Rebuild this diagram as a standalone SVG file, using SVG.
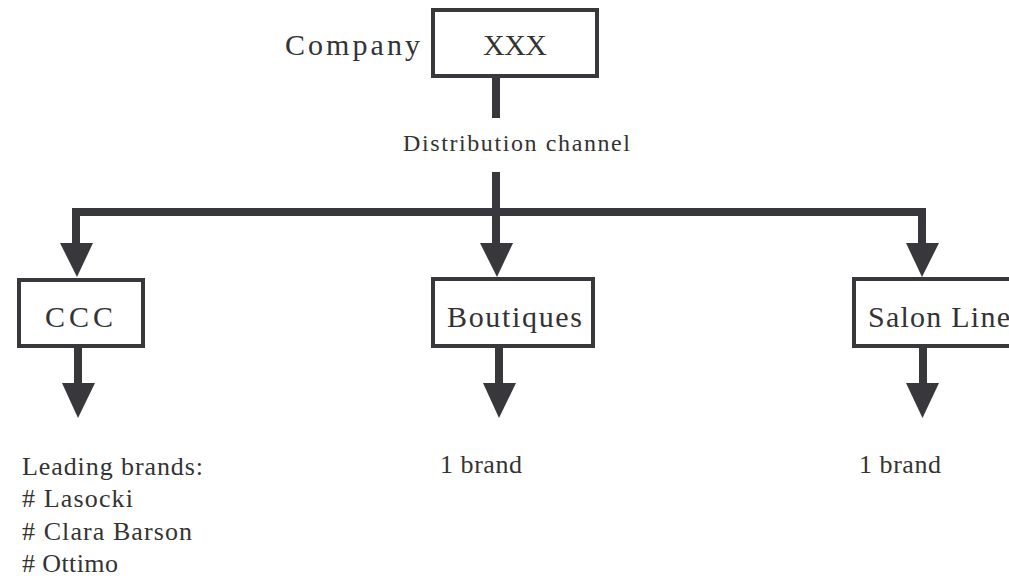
<svg xmlns="http://www.w3.org/2000/svg" width="1009" height="578" viewBox="0 0 1009 578">
<style>
.box{fill:#fff;stroke:#38383c;stroke-width:4}
.ln{fill:none;stroke:#38383c;stroke-width:8;stroke-linejoin:miter;stroke-linecap:butt}
.hd{fill:#38383c}
text{font-family:'Liberation Serif','DejaVu Serif',serif;fill:#333}
.big{font-size:30px}
.mid{font-size:26px}
.sm{font-size:24px}
</style>
<rect width="1009" height="578" fill="#fff"/>
<g id="connectors">
<path class="ln" d="M496 78 V118"/>
<path class="ln" d="M496 172 V245"/>
<path class="ln" d="M76 245 V212 H922 V245"/>
<polygon class="hd" points="60,243 93,243 77,277"/>
<polygon class="hd" points="480,243 513,243 497,277"/>
<polygon class="hd" points="906,243 939,243 922,277"/>
<path class="ln" d="M78 348 V385"/>
<polygon class="hd" points="62,383 95,383 78,418"/>
<path class="ln" d="M499 348 V385"/>
<polygon class="hd" points="483,383 516,383 499,418"/>
<path class="ln" d="M923 348 V385"/>
<polygon class="hd" points="906,383 939,383 922.5,418"/>
</g>
<g id="company">
<text class="big" x="285" y="55" textLength="135" lengthAdjust="spacing">Company</text>
<rect class="box" x="433" y="10" width="164" height="66"/>
<text class="big" x="483" y="55" textLength="64" lengthAdjust="spacing">XXX</text>
</g>
<g id="distribution">
<text class="sm" x="403" y="151" textLength="227" lengthAdjust="spacing">Distribution channel</text>
</g>
<g id="ccc">
<rect class="box" x="19" y="280" width="124" height="66"/>
<text class="big" x="45" y="327" textLength="68" lengthAdjust="spacing">CCC</text>
</g>
<g id="boutiques">
<rect class="box" x="433" y="279" width="160" height="67"/>
<text class="big" x="447" y="327" textLength="135" lengthAdjust="spacing">Boutiques</text>
</g>
<g id="salon">
<rect class="box" x="854" y="279" width="170" height="67"/>
<text class="big" x="868" y="327" textLength="142" lengthAdjust="spacing">Salon Line</text>
</g>
<g id="ccc-brands">
<text class="mid" x="22" y="475" textLength="181" lengthAdjust="spacing">Leading brands:</text>
<text class="mid" x="22" y="507" textLength="111" lengthAdjust="spacing"># Lasocki</text>
<text class="mid" x="22" y="540" textLength="170" lengthAdjust="spacing"># Clara Barson</text>
<text class="mid" x="22" y="572" textLength="96" lengthAdjust="spacing"># Ottimo</text>
</g>
<g id="boutiques-brands">
<text class="mid" x="440" y="473" textLength="82" lengthAdjust="spacing">1 brand</text>
</g>
<g id="salon-brands">
<text class="mid" x="859" y="473" textLength="82" lengthAdjust="spacing">1 brand</text>
</g>
</svg>
